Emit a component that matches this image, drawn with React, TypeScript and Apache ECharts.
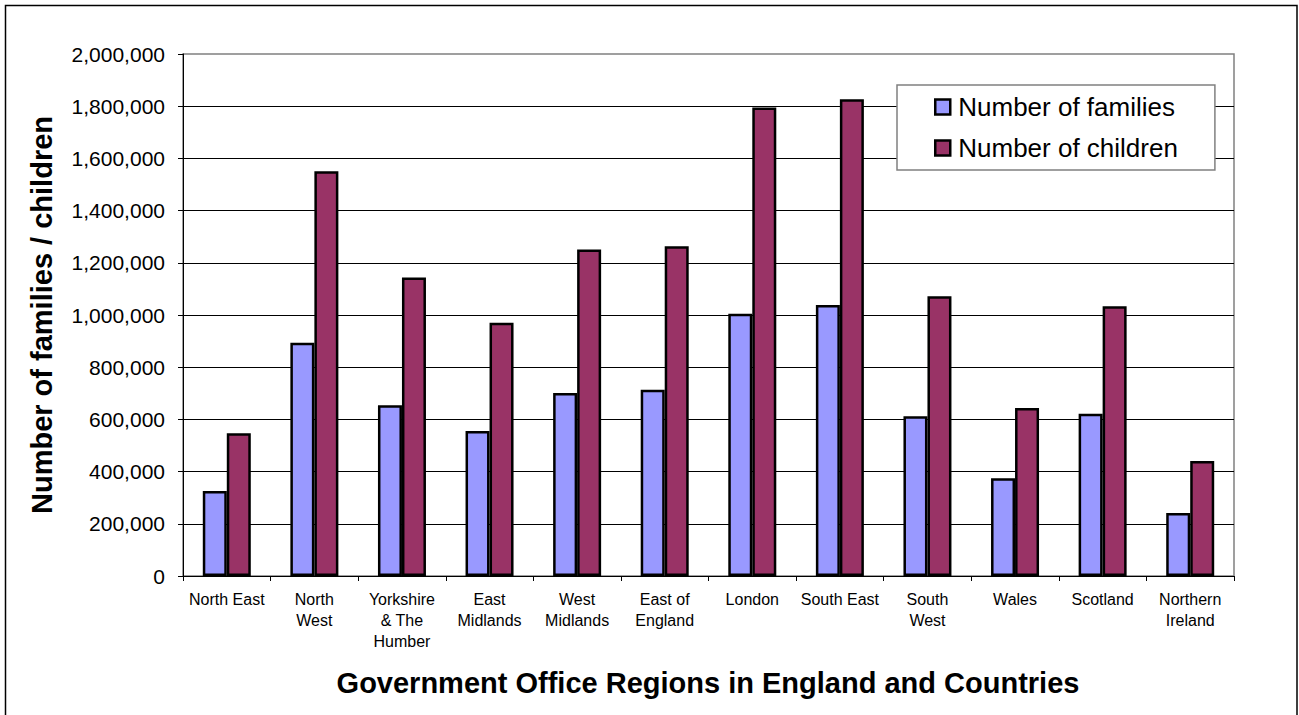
import React, { useEffect, useRef } from "react";
import * as echarts from "echarts";

const categories = [
  "North East",
  "North\nWest",
  "Yorkshire\n& The\nHumber",
  "East\nMidlands",
  "West\nMidlands",
  "East of\nEngland",
  "London",
  "South East",
  "South\nWest",
  "Wales",
  "Scotland",
  "Northern\nIreland",
];

const families = [326000, 894000, 654000, 556000, 701000, 714000, 1005000, 1038000, 612000, 375000, 622000, 241000];
const children = [547000, 1551000, 1144000, 970000, 1251000, 1263000, 1795000, 1827000, 1072000, 644000, 1034000, 441000];

const seriesNames = ["Number of families", "Number of children"];
const yAxisTitle = "Number of families / children";
const xAxisTitle = "Government Office Regions in England and Countries";

const FONT = "'Liberation Sans', Arial, sans-serif";

export default function App() {
  const ref = useRef<HTMLDivElement>(null);

  useEffect(() => {
    if (!ref.current) return;
    const chart = echarts.init(ref.current, undefined, { renderer: "svg" });
    chart.setOption({
      animation: false,
      backgroundColor: "#ffffff",
      textStyle: { fontFamily: FONT },
      grid: {
        left: 183,
        right: 65,
        top: 54,
        bottom: 139,
        show: true,
        borderColor: "#808080",
        borderWidth: 1.5,
        backgroundColor: "transparent",
      },
      legend: {
        show: true,
        orient: "vertical",
        left: 897,
        top: 85,
        padding: [9, 37, 9, 37],
        itemGap: 15,
        itemWidth: 15,
        itemHeight: 15,
        borderColor: "#808080",
        borderWidth: 1.5,
        backgroundColor: "#ffffff",
        icon: "rect",
        itemStyle: { borderColor: "#000", borderWidth: 2.5 },
        textStyle: { fontSize: 26, color: "#000", fontFamily: FONT, padding: [0, 0, 0, 3] },
        data: seriesNames,
      },
      xAxis: {
        type: "category",
        data: categories,
        axisLine: { show: true, lineStyle: { color: "#000", width: 1 } },
        axisTick: { show: true, length: 5, lineStyle: { color: "#000" } },
        axisLabel: {
          interval: 0,
          margin: 13,
          fontSize: 16,
          lineHeight: 21,
          color: "#000",
          fontFamily: FONT,
        },
      },
      yAxis: {
        type: "value",
        min: 0,
        max: 2000000,
        interval: 200000,
        axisLine: { show: true, lineStyle: { color: "#000", width: 1 } },
        axisTick: { show: true, length: 5, lineStyle: { color: "#000" } },
        axisLabel: {
          margin: 18,
          fontSize: 21,
          color: "#000",
          fontFamily: FONT,
          formatter: (v: number) => v.toLocaleString("en-US"),
        },
        splitLine: { show: true, showMaxLine: false, lineStyle: { color: "#000", width: 1 } },
      },
      series: [
        {
          name: seriesNames[0],
          type: "bar",
          data: families,
          barWidth: 24,
          barGap: "0%",
          itemStyle: { color: "#9999FF", borderColor: "#000", borderWidth: 2.5 },
        },
        {
          name: seriesNames[1],
          type: "bar",
          data: children,
          barWidth: 24,
          barGap: "0%",
          itemStyle: { color: "#993366", borderColor: "#000", borderWidth: 2.5 },
        },
      ],
      graphic: [
        {
          type: "rect",
          silent: true,
          shape: { x: 5.5, y: 5.5, width: 1291.5, height: 720 },
          style: { fill: "none", stroke: "#000", lineWidth: 1.5 },
          z: 100,
        },
        {
          type: "text",
          x: 42,
          y: 315,
          rotation: Math.PI / 2,
          style: {
            text: yAxisTitle,
            fontSize: 29,
            fontWeight: "bold",
            fontFamily: FONT,
            fill: "#000",
            align: "center",
            verticalAlign: "middle",
          },
        },
        {
          type: "text",
          x: 708,
          y: 683,
          style: {
            text: xAxisTitle,
            fontSize: 29,
            fontWeight: "bold",
            fontFamily: FONT,
            fill: "#000",
            align: "center",
            verticalAlign: "middle",
          },
        },
      ],
    });
    return () => chart.dispose();
  }, []);

  return (
    <div
      ref={ref}
      style={{ position: "absolute", left: 0, top: 0, width: 1299, height: 715 }}
    />
  );
}
